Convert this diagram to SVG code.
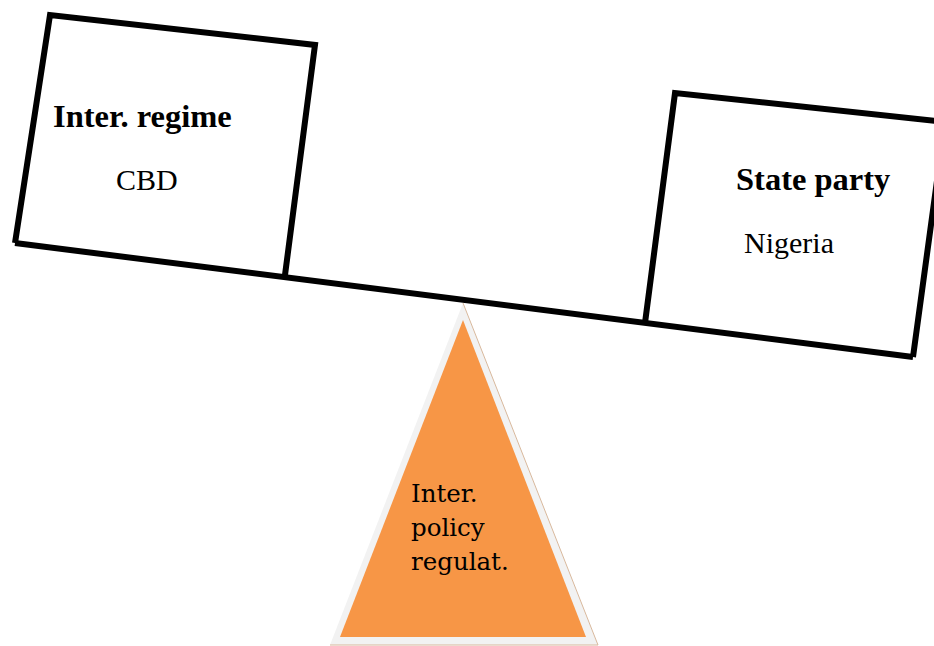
<svg xmlns="http://www.w3.org/2000/svg" width="934" height="646" viewBox="0 0 934 646">
<style>
.box{fill:none;stroke:#000;stroke-width:6;stroke-linejoin:miter}
.b{font-family:"Liberation Serif",serif;font-weight:bold;font-size:32.5px;fill:#000}
.r{font-family:"Liberation Serif",serif;font-size:30px;fill:#000}
.t{font-family:"DejaVu Serif",serif;font-size:24.5px;fill:#000}
</style>
<rect width="934" height="646" fill="#fff"/>
<g id="connectors">
<line class="box" x1="15" y1="243" x2="913" y2="357"/>
</g>
<g id="left-box">
<polyline class="box" points="285,275 315,45 50,15 15,243"/>
<text class="b" x="53" y="127">Inter. regime</text>
<text class="r" x="116" y="190">CBD</text>
</g>
<g id="right-box">
<polyline class="box" points="645,323 675,93 945,122 913,357"/>
<text class="b" x="736" y="190">State party</text>
<text class="r" x="744" y="253">Nigeria</text>
</g>
<g id="fulcrum">
<polygon points="463,303 598,645 330,645" fill="#f2f2f2"/>
<polyline points="463,303 598,645 330,645" fill="none" stroke="#d8b89c" stroke-width="1"/>
<polygon points="463,320 586,637 340,637" fill="#f79646"/>
<text class="t" x="411" y="502">Inter.</text>
<text class="t" x="411" y="536">policy</text>
<text class="t" x="411" y="570">regulat.</text>
</g>
</svg>
